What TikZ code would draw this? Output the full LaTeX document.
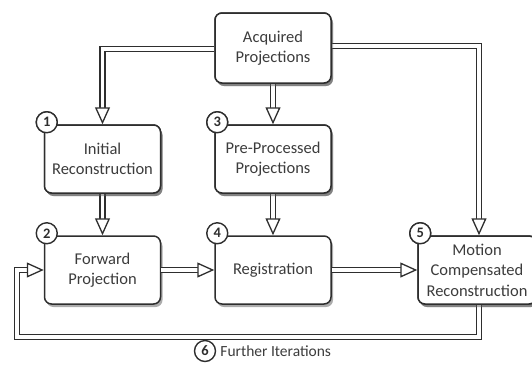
\documentclass[tikz,border=0pt]{standalone}
\usepackage{fontspec}
\setmainfont{Carlito}
\usetikzlibrary{arrows.meta,shadows,positioning}
\definecolor{ink}{HTML}{2E2E2E}
\definecolor{txt}{HTML}{3C3C3C}
\tikzset{
  stepbox/.style={draw=ink, line width=1.5pt, fill=white, rounded corners=7pt,
    minimum width=116pt, minimum height=68pt, align=center, text=txt,
    font=\fontsize{16.5}{20.5}\selectfont, inner sep=1pt,
    drop shadow={shadow xshift=2pt, shadow yshift=-3pt, opacity=0.5, fill=black!65}},
  numcirc/.style={circle, draw=ink, line width=1.4pt, fill=white, inner sep=0pt,
    minimum size=21pt, font=\fontsize{14.5}{14.5}\selectfont\bfseries, text=ink},
  flow/.style={draw=ink, line width=1.3pt, double=white, double distance=3.6pt,
    -{Triangle[open, length=17pt, width=15pt, line width=1.3pt, fill=white]}}
}
\begin{document}
\begin{tikzpicture}[x=1pt,y=-1pt]
\useasboundingbox (0,0) rectangle (532,365);
\clip (0,0) rectangle (532,365);
% nodes
\node[stepbox, minimum height=70pt] (acq) at (273,48) {Acquired\\Projections};
\node[stepbox] (init) at (102.5,159) {Initial\\Reconstruction};
\node[stepbox] (pre) at (273,159) {Pre-Processed\\Projections};
\node[stepbox] (fwd) at (102.5,270) {Forward\\Projection};
\node[stepbox] (reg) at (273,270) {\raisebox{3pt}{Registration}};
\node[stepbox, minimum width=118pt] (mot) at (477,270) {Motion\\Compensated\\Reconstruction};
% number circles
\node[numcirc] (c1) at ([xshift=3pt,yshift=2pt]init.north west) {1};
\node[numcirc] (c2) at ([xshift=3pt,yshift=2pt]fwd.north west) {2};
\node[numcirc] (c3) at ([xshift=3pt,yshift=2pt]pre.north west) {3};
\node[numcirc] (c4) at ([xshift=3pt,yshift=2pt]reg.north west) {4};
\node[numcirc] (c5) at ([xshift=3pt,yshift=2pt]mot.north west) {5};
\node[numcirc] (c6) at (205,351) {6};
\node[anchor=west, text=txt, font=\fontsize{15.5}{15.5}\selectfont, inner sep=0pt] (lbl) at ([xshift=4pt]c6.east) {Further Iterations};
% coordinates
\coordinate (aL) at ([yshift=-1pt]acq.west);
\coordinate (aR) at ([yshift=2pt]acq.east);
\coordinate (mtop) at (479,0 |- mot.north);
\coordinate (mbot) at (479,0 |- mot.south);
\coordinate (lb) at (479,337);
\coordinate (ll) at (17,337);
\coordinate (lu) at (17,270);
% connectors
\draw[flow] (aL) -| (init.north);
\draw[flow] (aR) -| (mtop);
\draw[flow] (acq.south) -- (pre.north);
\draw[flow] (init.south) -- (fwd.north);
\draw[flow] (pre.south) -- (reg.north);
\draw[flow] (fwd.east) -- (reg.west);
\draw[flow] (reg.east) -- (mot.west);
\draw[flow] (mbot) -- (lb) -- (ll) -- (lu) -- (fwd.west);
% redraw boxes on top of line ends
\node[stepbox, minimum height=70pt] at (acq) {Acquired\\Projections};
\node[stepbox, minimum width=118pt] at (mot) {Motion\\Compensated\\Reconstruction};
\node[stepbox] at (init) {Initial\\Reconstruction};
\node[stepbox] at (pre) {Pre-Processed\\Projections};
\node[numcirc] at (c1) {1};
\node[numcirc] at (c3) {3};
\node[numcirc] at (c5) {5};
\end{tikzpicture}
\end{document}
